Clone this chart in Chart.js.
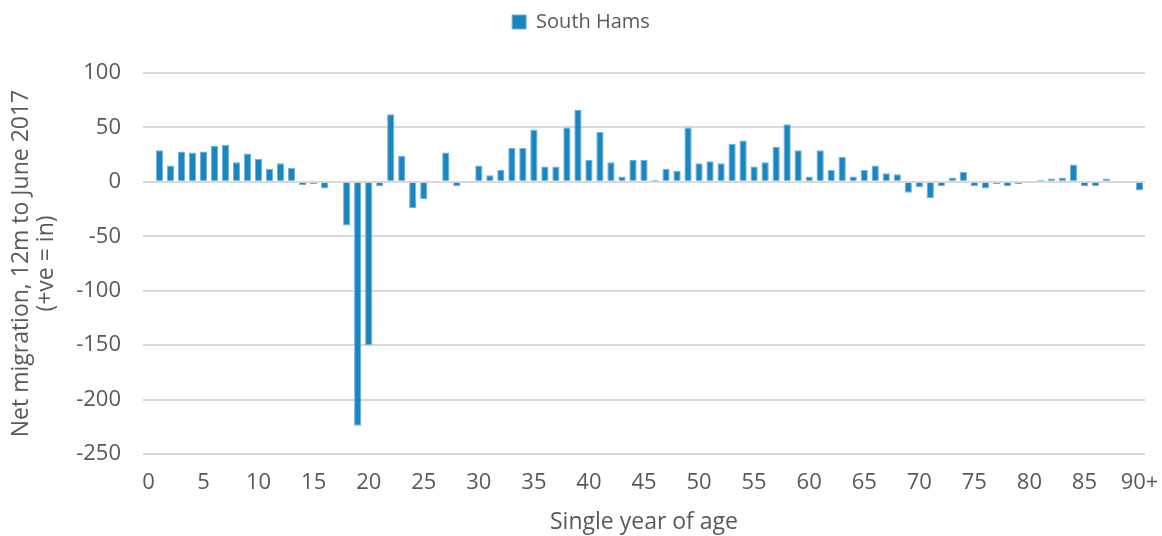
<!DOCTYPE html>
<html>
<head>
<meta charset="utf-8">
<script src="https://cdn.jsdelivr.net/npm/chart.js@4.4.1/dist/chart.umd.min.js"></script>
<style>
  html, body { margin: 0; padding: 0; background: #ffffff; }
  #wrap { width: 1162px; height: 536px; }
</style>
</head>
<body>
<div id="wrap"><canvas id="chart" width="1162" height="536"></canvas></div>
<script>
// Ages 0..89 then 90+
const ages = [];
for (let a = 0; a < 90; a++) ages.push(String(a));
ages.push("90+");

// Net migration by single year of age, South Hams
const southHams = [
  -1, 29, 15, 28, 27, 28, 33, 34, 18, 26,
  21, 12, 17, 13, -3, -2, -6, 0, -40, -224,
  -150, -4, 62, 24, -24, -16, 1, 27, -4, -1,
  15, 6, 11, 31, 31, 48, 14, 14, 50, 66,
  20, 46, 18, 5, 20, 20, 2, 12, 10, 50,
  17, 19, 17, 35, 38, 14, 18, 32, 53, 29,
  5, 29, 11, 23, 5, 11, 15, 8, 7, -10,
  -5, -15, -4, 4, 9, -4, -6, -2, -4, -2,
  1, 2, 3, 4, 16, -4, -4, 3, 0, -1,
  -8
];

const seriesName = "South Hams";
const yTitle = ["Net migration, 12m to June 2017", "(+ve = in)"];
const xTitle = "Single year of age";

const textColor = "#595959";
const gridColor = "#d9d9d9";
const barColor = "#1a86bf";
const font = "'Open Sans', 'Noto Sans', sans-serif";

Chart.defaults.font.family = font;
Chart.defaults.color = textColor;

// extra gap under the legend, like the Excel plot area
const legendGap = {
  id: "legendGap",
  beforeInit(chart) {
    const fit = chart.legend.fit;
    chart.legend.fit = function () {
      fit.call(this);
      this.height += 31;
    };
  },
};

new Chart(document.getElementById("chart"), {
  type: "bar",
  plugins: [legendGap],
  data: {
    labels: ages,
    datasets: [{
      label: seriesName,
      data: southHams,
      backgroundColor: barColor,
      borderColor: "#6fb2da",
      borderWidth: 1,
      barPercentage: 0.66,
      categoryPercentage: 1,
    }],
  },
  options: {
    responsive: false,
    animation: false,
    layout: { padding: { left: 0, right: 0, top: 2, bottom: 0 } },
    plugins: {
      tooltip: { enabled: false },
      legend: {
        position: "top",
        labels: {
          boxWidth: 14,
          boxHeight: 14,
          padding: 10,
          font: { size: 20 },
          color: textColor,
        },
      },
    },
    scales: {
      x: {
        grid: { display: false, drawTicks: false },
        border: { display: false },
        ticks: {
          autoSkip: false,
          maxRotation: 0,
          padding: 16,
          font: { size: 22 },
          color: textColor,
          callback: function (val, idx) {
            return idx % 5 === 0 ? this.getLabelForValue(val) : "";
          },
        },
        title: {
          display: true,
          text: xTitle,
          font: { size: 23 },
          color: textColor,
          padding: { top: 10, bottom: 0 },
        },
        afterFit: (scale) => {
          scale.height = 82;
          scale.paddingLeft = 0;
          scale.paddingRight = 17;
        },
      },
      y: {
        min: -250,
        max: 100,
        grid: { color: gridColor, lineWidth: 2, drawTicks: false },
        border: { display: false },
        ticks: {
          stepSize: 50,
          padding: 22,
          font: { size: 22 },
          color: textColor,
        },
        title: {
          display: true,
          text: yTitle,
          font: { size: 23, lineHeight: 1.1 },
          color: textColor,
          padding: { top: 9, bottom: 8 },
        },
        afterFit: (scale) => { scale.width = 143; },
      },
    },
  },
});
</script>
</body>
</html>
